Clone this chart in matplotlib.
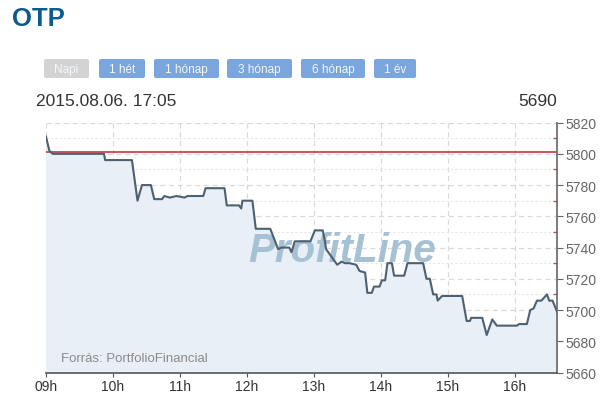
import matplotlib.pyplot as plt
from matplotlib.patches import FancyBboxPatch
from matplotlib.ticker import MultipleLocator

# intraday OTP price, minutes after 09:00
minutes = [0, 3, 6, 52, 53, 77, 82, 86, 94, 97,
           104, 106, 111, 117, 124, 127, 141, 143, 160, 162,
           173, 175, 176, 185, 188, 201, 208, 211, 218, 220,
           223, 237, 241, 248, 250, 251, 254, 257, 261, 265,
           268, 272, 278, 281, 286, 288, 292, 294, 299, 301,
           304, 306, 310, 312, 321, 324, 338, 341, 344, 347,
           350, 351, 355, 373, 377, 380, 381, 391, 395, 400,
           404, 422, 424, 431, 434, 437, 440, 444, 449, 451,
           454, 458]
prices = [5811, 5802, 5800, 5800, 5796, 5796, 5770, 5780, 5780, 5771,
          5771, 5773, 5772, 5773, 5772, 5773, 5773, 5778, 5778, 5767,
          5767, 5765, 5770, 5770, 5752, 5752, 5739, 5740, 5740, 5737,
          5744, 5744, 5751, 5751, 5744, 5739, 5736, 5733, 5729, 5731,
          5730, 5730, 5729, 5725, 5724, 5711, 5711, 5715, 5715, 5719,
          5719, 5730, 5730, 5722, 5722, 5730, 5730, 5720, 5720, 5710,
          5710, 5706, 5709, 5709, 5693, 5693, 5695, 5695, 5684, 5694,
          5690, 5690, 5691, 5691, 5700, 5701, 5706, 5706, 5710, 5706,
          5706, 5699]
prev_close = 5801
hour_labels = ["09h", "10h", "11h", "12h", "13h", "14h", "15h", "16h"]
buttons = ["Napi", "1 hét", "1 hónap", "3 hónap", "6 hónap", "1 év"]
title = "OTP"
timestamp = "2015.08.06. 17:05"
last_price = "5690"

plt.rcParams['font.family'] = ['Liberation Sans', 'DejaVu Sans']

W, H = 608, 410
fig = plt.figure(figsize=(W / 100, H / 100), dpi=100)

def fx(px):
    return px / W

def fy(py):
    return 1 - py / H

ax = fig.add_axes([fx(46), fy(373.5), fx(557) - fx(46), fy(123.6) - fy(373.5)])
ax.set_xlim(0, 458)
ax.set_ylim(5660, 5820)

# grid
ax.yaxis.set_major_locator(MultipleLocator(20))
ax.yaxis.set_minor_locator(MultipleLocator(10))
ax.set_xticks([60 * i for i in range(len(hour_labels))])
ax.set_xticklabels(hour_labels)
ax.grid(True, which='major', color='#dadada', linestyle=(0, (4, 3)), linewidth=0.9)
ax.grid(True, which='minor', axis='y', color='#e6e6e6', linestyle=(0, (2, 2)), linewidth=0.8)
ax.set_axisbelow(True)

ax.fill_between(minutes, prices, 5660, color='#e8eff7', zorder=1)
ax.axhline(prev_close, color='#c9474a', linewidth=1.3, zorder=3)
ax.text(0.58, 0.49, "ProfitLine", transform=ax.transAxes, ha='center', va='center',
        fontsize=29, fontweight='bold', fontstyle='italic', color='#a6c1d4', zorder=2)
ax.plot(minutes, prices, color='#4f6070', linewidth=1.5, zorder=4)
ax.text(0.03, 0.06, "Forrás: PortfolioFinancial", transform=ax.transAxes,
        fontsize=9.5, color='#8a8a8a', va='center', zorder=5)

for s in ['top', 'left']:
    ax.spines[s].set_visible(False)
ax.spines['bottom'].set_color('#555555')
ax.spines['right'].set_color('#666666')
ax.spines['bottom'].set_linewidth(1.2)
ax.spines['right'].set_linewidth(1.2)
ax.yaxis.tick_right()
ax.tick_params(axis='y', which='major', direction='out', length=4, color='#666666',
               labelsize=10, labelcolor='#666666', pad=2)
ax.tick_params(axis='y', which='minor', direction='in', length=3, color='#d05050', width=1)
ax.tick_params(axis='x', which='major', direction='inout', length=6, color='#555555',
               labelsize=10, labelcolor='#333333', pad=2)

# header
fig.text(fx(12), fy(19), title, fontsize=18.5, fontweight='bold', color='#0d5a8c', va='center')
fig.text(fx(36), fy(101), timestamp, fontsize=12.5, color='#333333', va='center')
fig.text(fx(557), fy(101), last_price, fontsize=12.5, color='#333333', va='center', ha='right')

btn_x = [(44, 89), (99, 145), (154, 219), (227, 292), (301, 365), (374, 416)]
for i, (lbl, (x0, x1)) in enumerate(zip(buttons, btn_x)):
    face = '#d3d3d3' if i == 0 else '#7ba5dd'
    box = FancyBboxPatch((fx(x0), fy(79)), fx(x1) - fx(x0), fy(60) - fy(79),
                         boxstyle='round,pad=0,rounding_size=0.004',
                         transform=fig.transFigure, facecolor=face, edgecolor='none')
    fig.add_artist(box)
    fig.text(fx((x0 + x1) / 2), fy(73.5), lbl, fontsize=8.5, color='#f4f7fc',
             ha='center', va='baseline')

fig.savefig("out.png", dpi=100)
